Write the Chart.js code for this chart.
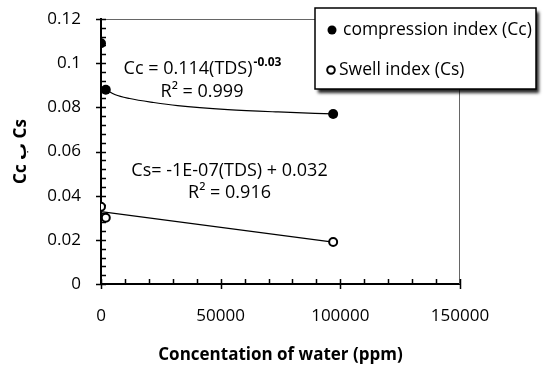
<!DOCTYPE html>
<html>
<head>
<meta charset="utf-8">
<script src="https://cdn.jsdelivr.net/npm/chart.js@4.4.0/dist/chart.umd.min.js"></script>
<style>
  html, body { margin: 0; padding: 0; background: #fff; }
  #wrap { width: 545px; height: 367px; }
</style>
</head>
<body>
<div id="wrap"><canvas id="chart" width="545" height="367"></canvas></div>
<script>
// measured points
const tdsCc = [0, 2000, 97000];
const ccValues = [0.109, 0.088, 0.077];
const tdsCs = [0, 2000, 97000];
const csValues = [0.035, 0.030, 0.019];

// trend lines
const ccTrendX = [2000, 6000, 12000, 22000, 32000, 53000, 74000, 97000];
const ccTrendY = [0.088, 0.0857, 0.0840, 0.0822, 0.0808, 0.0790, 0.0779, 0.0770];
const csTrendX = [0, 97000];
const csTrendY = [0.0328, 0.0190];

const xTicks = [0, 50000, 100000, 150000];
const yTicks = [0, 0.02, 0.04, 0.06, 0.08, 0.1, 0.12];

const seriesLabels = ['compression index (Cc)', 'Swell index (Cs)'];
const xTitle = 'Concentation of water (ppm)';
const yTitle = 'Cc ب Cs';
const ccEquation = ['Cc = 0.114(TDS)', '-0.03', 'R² = 0.999'];
const csEquation = ['Cs= -1E-07(TDS) + 0.032', 'R² = 0.916'];

const FONT = "'Open Sans', 'DejaVu Sans', sans-serif";

function toPoints(xs, ys) {
  return xs.map((x, i) => ({ x: x, y: ys[i] }));
}

// keep the plot box where the original has it
function noScalePadding(s) {
  s.paddingTop = 0;
  s.paddingBottom = 0;
  s.paddingLeft = 0;
  s.paddingRight = 0;
}

// ticks: major ones cross the axis, minor ones point inward
const axisTicks = {
  id: 'axisTicks',
  beforeDatasetsDraw(chart) {
    const ctx = chart.ctx;
    const area = chart.chartArea;
    const xs = chart.scales.x;
    const ys = chart.scales.y;
    ctx.save();
    // frame top + right
    ctx.strokeStyle = '#666';
    ctx.lineWidth = 1;
    ctx.beginPath();
    ctx.moveTo(area.left, area.top + 0.5);
    ctx.lineTo(area.right, area.top + 0.5);
    ctx.moveTo(area.right - 0.5, area.top);
    ctx.lineTo(area.right - 0.5, area.bottom);
    ctx.stroke();

    ctx.strokeStyle = '#000';
    ctx.lineWidth = 1.5;
    ctx.beginPath();
    for (let i = 0; i <= 30; i++) {
      const py = Math.round(ys.getPixelForValue(i * 0.004)) + 0.5;
      const major = i % 5 === 0;
      ctx.moveTo(area.left - (major ? 5 : 0), py);
      ctx.lineTo(area.left + 5, py);
    }
    for (let i = 0; i <= 15; i++) {
      const px = Math.round(xs.getPixelForValue(i * 10000)) + 0.5;
      const major = i % 5 === 0;
      ctx.moveTo(px, area.bottom - 5);
      ctx.lineTo(px, area.bottom + (major ? 5 : 0));
    }
    ctx.stroke();
    ctx.restore();
  }
};

// trend line equations
const equations = {
  id: 'equations',
  afterDatasetsDraw(chart) {
    const ctx = chart.ctx;
    const xs = chart.scales.x;
    const ys = chart.scales.y;
    ctx.save();
    ctx.fillStyle = '#000';
    ctx.textBaseline = 'middle';

    ctx.font = '18px ' + FONT;
    const w1 = ctx.measureText(ccEquation[0]).width;
    ctx.font = 'bold 12px ' + FONT;
    const w2 = ctx.measureText(ccEquation[1]).width;
    const cx = xs.getPixelForValue(42200);
    const y1 = ys.getPixelForValue(0.0975);
    const start = cx - (w1 + w2) / 2;
    ctx.textAlign = 'left';
    ctx.font = '18px ' + FONT;
    ctx.fillText(ccEquation[0], start, y1);
    ctx.font = 'bold 12px ' + FONT;
    ctx.fillText(ccEquation[1], start + w1 + 1, y1 - 6);

    ctx.textAlign = 'center';
    ctx.font = '18px ' + FONT;
    ctx.fillText(ccEquation[2], cx, ys.getPixelForValue(0.0871));

    const cx2 = xs.getPixelForValue(53700);
    ctx.fillText(csEquation[0], cx2, ys.getPixelForValue(0.0514));
    ctx.fillText(csEquation[1], cx2, ys.getPixelForValue(0.0413));
    ctx.restore();
  }
};

// boxed legend with drop shadow over the top right corner
const boxLegend = {
  id: 'boxLegend',
  afterDraw(chart) {
    const ctx = chart.ctx;
    const bx = 315, by = 8, bw = 221, bh = 81;
    ctx.save();
    ctx.shadowColor = 'rgba(0,0,0,0.85)';
    ctx.shadowOffsetX = 3;
    ctx.shadowOffsetY = 4;
    ctx.shadowBlur = 3;
    ctx.fillStyle = '#fff';
    ctx.fillRect(bx, by, bw, bh);
    ctx.shadowColor = 'transparent';
    ctx.strokeStyle = '#000';
    ctx.lineWidth = 1.5;
    ctx.strokeRect(bx, by, bw, bh);

    ctx.font = '17.5px ' + FONT;
    ctx.textAlign = 'left';
    ctx.textBaseline = 'middle';
    ctx.fillStyle = '#000';
    ctx.beginPath();
    ctx.arc(332, 30, 4.5, 0, Math.PI * 2);
    ctx.fill();
    ctx.fillText(seriesLabels[0], 343, 30);

    ctx.lineWidth = 2;
    ctx.beginPath();
    ctx.arc(331, 70, 3.8, 0, Math.PI * 2);
    ctx.stroke();
    ctx.fillText(seriesLabels[1], 339, 70);
    ctx.restore();
  }
};

new Chart(document.getElementById('chart'), {
  type: 'scatter',
  data: {
    datasets: [
      {
        label: seriesLabels[0],
        data: toPoints(tdsCc, ccValues),
        pointRadius: 5,
        pointBackgroundColor: '#000',
        pointBorderColor: '#000',
        pointBorderWidth: 0,
        showLine: false,
        order: 0
      },
      {
        label: seriesLabels[1],
        data: toPoints(tdsCs, csValues),
        pointRadius: 4,
        pointBackgroundColor: '#fff',
        pointBorderColor: '#000',
        pointBorderWidth: 2,
        showLine: false,
        order: 1
      },
      {
        label: 'Power (Cc)',
        data: toPoints(ccTrendX, ccTrendY),
        showLine: true,
        pointRadius: 0,
        borderColor: '#000',
        borderWidth: 1.2,
        cubicInterpolationMode: 'monotone',
        order: 2
      },
      {
        label: 'Linear (Cs)',
        data: toPoints(csTrendX, csTrendY),
        showLine: true,
        pointRadius: 0,
        borderColor: '#000',
        borderWidth: 1.2,
        order: 3
      }
    ]
  },
  options: {
    responsive: false,
    animation: false,
    layout: { padding: { top: 19, right: 85, left: 0, bottom: 0 } },
    plugins: {
      legend: { display: false },
      tooltip: { enabled: false }
    },
    scales: {
      x: {
        type: 'linear',
        min: 0,
        max: 150000,
        afterFit: (s) => { s.height = 83; noScalePadding(s); },
        afterBuildTicks: (s) => { s.ticks = xTicks.map((v) => ({ value: v })); },
        ticks: {
          color: '#000',
          padding: 22,
          maxRotation: 0,
          autoSkip: false,
          font: { family: FONT, size: 17 },
          callback: (v) => String(v)
        },
        grid: { drawOnChartArea: false, drawTicks: false },
        border: { color: '#000', width: 2 },
        title: {
          display: true,
          text: xTitle,
          color: '#000',
          font: { family: FONT, size: 17, weight: 'bold' },
          padding: { top: 0, bottom: 2 }
        }
      },
      y: {
        type: 'linear',
        min: 0,
        max: 0.12,
        afterFit: (s) => { s.width = 101; noScalePadding(s); },
        afterBuildTicks: (s) => { s.ticks = yTicks.map((v) => ({ value: v })); },
        ticks: {
          color: '#000',
          padding: 20,
          font: { family: FONT, size: 17 },
          callback: (v) => String(+v.toFixed(2))
        },
        grid: { drawOnChartArea: false, drawTicks: false },
        border: { color: '#000', width: 2 },
        title: {
          display: true,
          text: yTitle,
          color: '#000',
          font: { family: FONT, size: 17, weight: 'bold' },
          padding: { top: 11, bottom: 0 }
        }
      }
    }
  },
  plugins: [axisTicks, equations, boxLegend]
});
</script>
</body>
</html>
